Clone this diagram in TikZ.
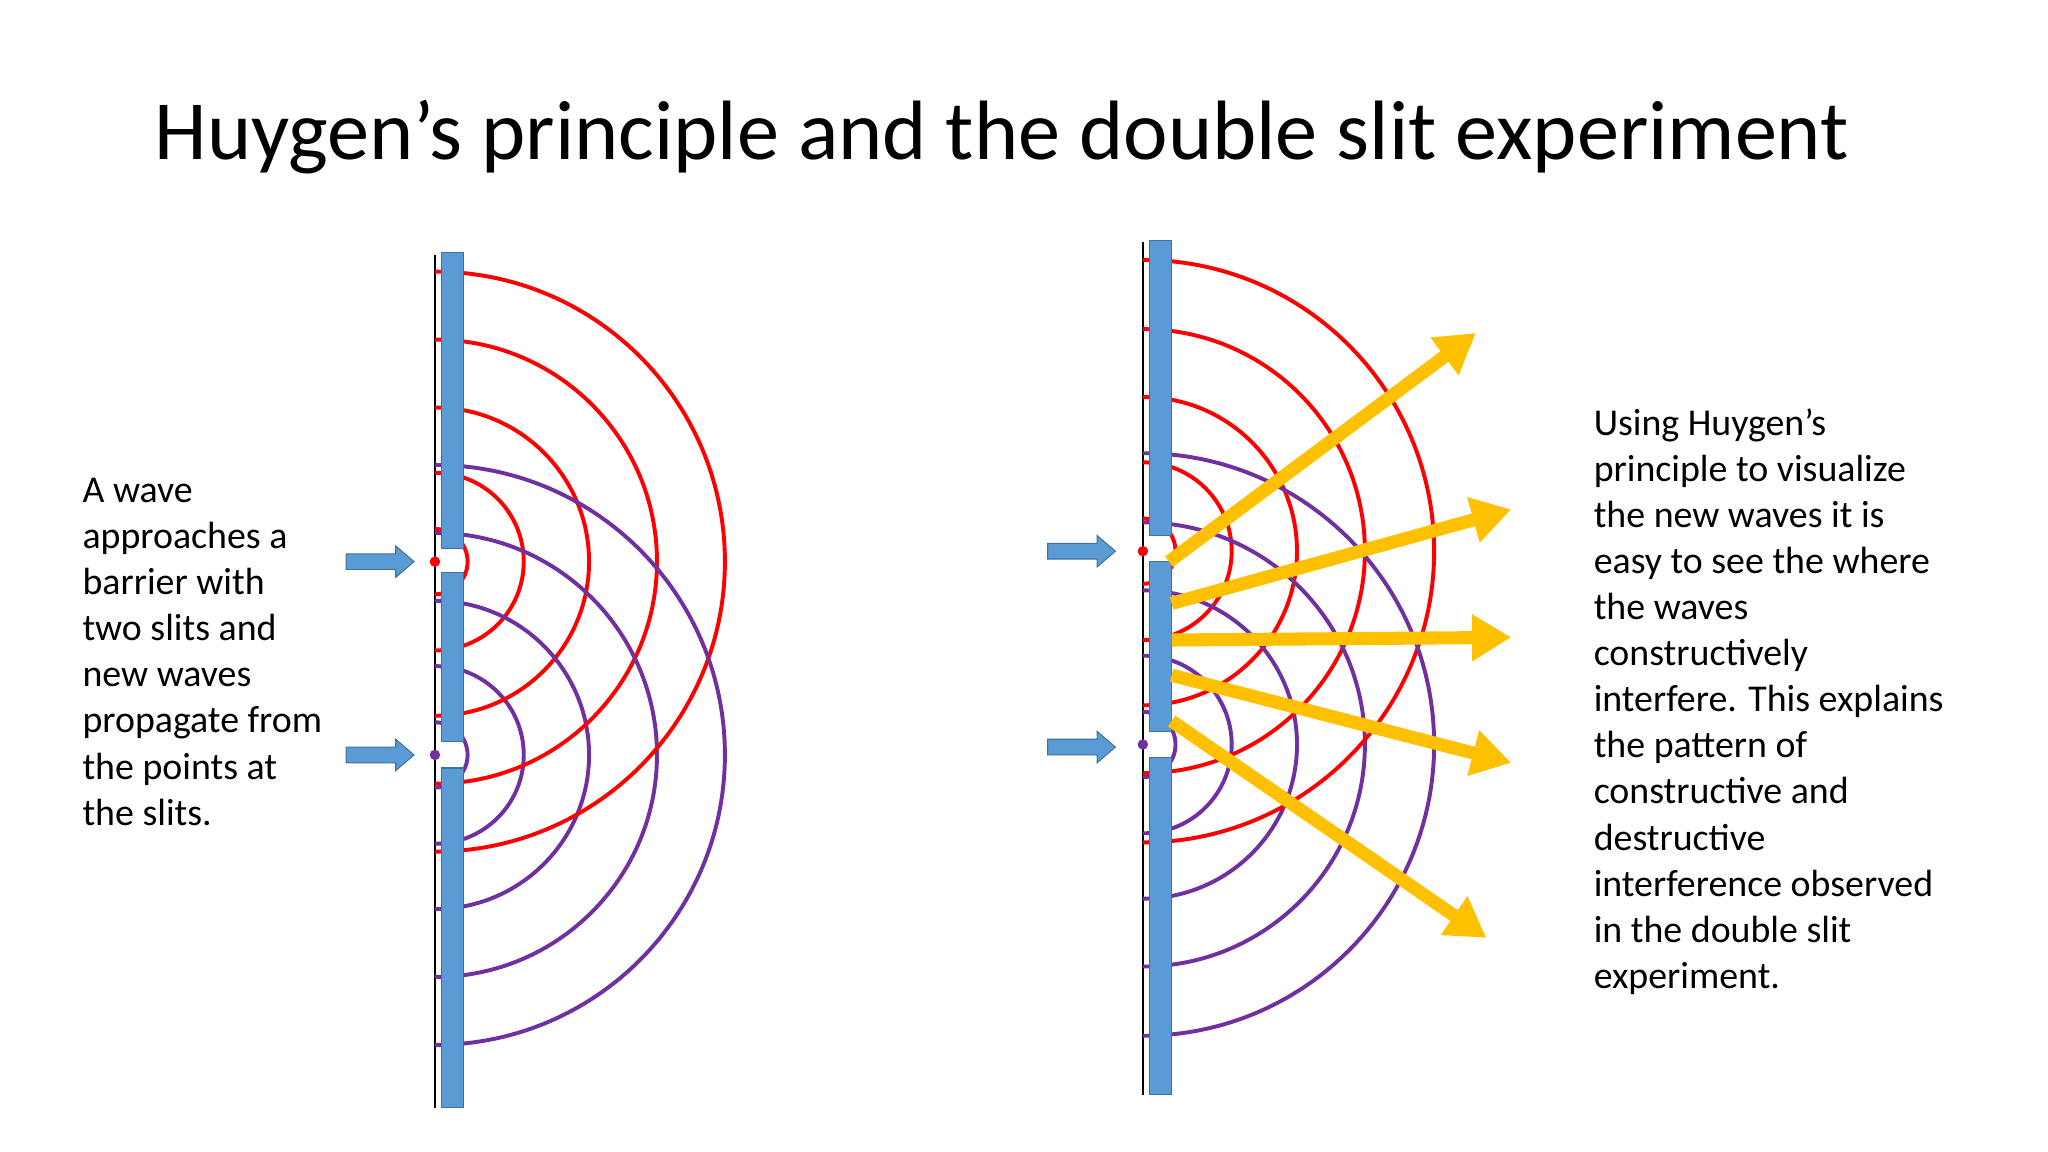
\documentclass[tikz,border=0pt]{standalone}
\usepackage{fontspec}
\setmainfont{Carlito}
\usetikzlibrary{arrows.meta}
\definecolor{bbar}{HTML}{5B9BD5}
\definecolor{bbord}{HTML}{41719C}
\definecolor{wred}{HTML}{FF0000}
\definecolor{wpur}{HTML}{7030A0}
\definecolor{yel}{HTML}{FFC000}
\tikzset{
 barseg/.style={fill=bbar,draw=bbord,line width=0.8pt},
 redw/.style={draw=wred,line width=3pt},
 purw/.style={draw=wpur,line width=3pt},
 blockarr/.style={fill=bbar,draw=bbord,line width=0.8pt},
 yarrow/.style={draw=yel,line width=10pt,-{Triangle[length=30pt,width=34pt]}},
 txt/.style={anchor=west,font=\fontsize{29}{35.3}\selectfont,align=left,inner sep=0pt}
}
\newcommand{\inarr}[2]{%
 \draw[blockarr] (#1-26,#2-6) -- (#1+12,#2-6) -- (#1+12,#2-12) -- (#1+26,#2) -- (#1+12,#2+12) -- (#1+12,#2+6) -- (#1-26,#2+6) -- cycle;}
\begin{document}
\begin{tikzpicture}[x=1pt,y=-1pt]
\useasboundingbox[fill=white] (0,0) rectangle (1568,882);
\node (title) at (767,105) {\fontsize{64.5}{66}\selectfont Huygen’s principle and the double slit experiment};
% left diagram
\draw[line width=2pt] (333,195) -- (333,848);
\foreach \r in {25,68,118,170,222} {
 \draw[redw] (333,430-\r) arc[start angle=-90,end angle=90,radius=\r];
 \draw[purw] (333,578-\r) arc[start angle=-90,end angle=90,radius=\r];
}
\fill[wred] (333,430) circle (4);
\fill[wpur] (333,578) circle (4);
\draw[barseg] (338,193) rectangle (355,420);
\draw[barseg] (338,438) rectangle (355,568);
\draw[barseg] (338,588) rectangle (355,848);
\inarr{291}{430}
\inarr{291}{578}
\node[txt] (ltext) at (63,499) {A wave\\approaches a\\barrier with\\two slits and\\new waves\\propagate from\\the points at\\the slits.};
% right diagram
\draw[line width=2pt] (875,185) -- (875,838);
\foreach \r in {25,68,118,170,223} {
 \draw[redw] (875,422-\r) arc[start angle=-90,end angle=90,radius=\r];
 \draw[purw] (875,570-\r) arc[start angle=-90,end angle=90,radius=\r];
}
\fill[wred] (875,422) circle (4);
\fill[wpur] (875,570) circle (4);
\draw[barseg] (880,184) rectangle (897,410);
\draw[barseg] (880,430) rectangle (897,560);
\draw[barseg] (880,580) rectangle (897,838);
\inarr{828}{422}
\inarr{828}{572}
\coordinate (s1) at (895,430); \coordinate (e1) at (1130,255);
\coordinate (s2) at (897,462); \coordinate (e2) at (1157,390);
\coordinate (s3) at (897,490); \coordinate (e3) at (1157,488);
\coordinate (s4) at (897,517); \coordinate (e4) at (1157,584);
\coordinate (s5) at (897,552); \coordinate (e5) at (1138,718);
\foreach \i in {1,...,5} \draw[yarrow] (s\i) -- (e\i);
\node[txt] (rtext) at (1220,537) {Using Huygen’s\\principle to visualize\\the new waves it is\\easy to see the where\\the waves\\constructively\\interfere. This explains\\the pattern of\\constructive and\\destructive\\interference observed\\in the double slit\\experiment.};
\end{tikzpicture}
\end{document}
